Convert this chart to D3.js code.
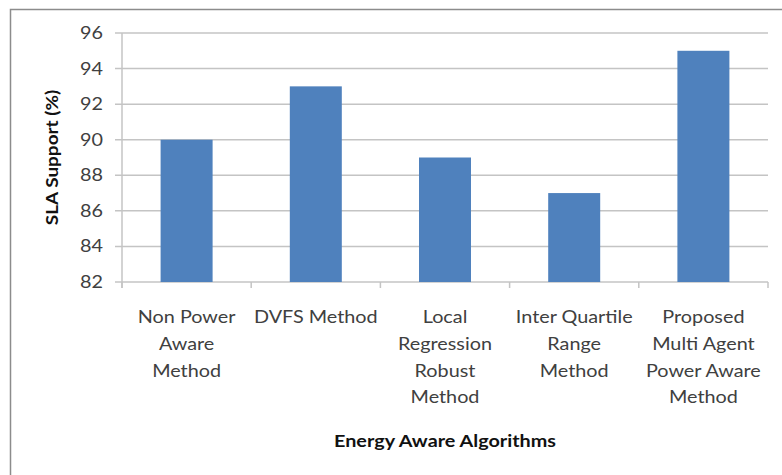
<!DOCTYPE html>
<html><head><meta charset="utf-8">
<script src="https://cdn.jsdelivr.net/npm/d3@7"></script>
<style>body{margin:0;background:#fff}svg{display:block}</style>
</head><body>
<svg id="c" width="782" height="475"></svg>
<script>
const categories = [
  ["Non Power","Aware","Method"],
  ["DVFS Method"],
  ["Local","Regression","Robust","Method"],
  ["Inter Quartile","Range","Method"],
  ["Proposed","Multi Agent","Power Aware","Method"]
];
const values = [90, 93, 89, 87, 95];
const yTicks = [82, 84, 86, 88, 90, 92, 94, 96];
const xTitle = "Energy Aware Algorithms";
const yTitle = "SLA  Support (%)";

(function(){
const svg = d3.select("#c");
const font = "Lato, 'Open Sans', sans-serif";
const pL = 122, pR = 768, pT = 33, pB = 282;
const SX = 1.2;

svg.append("rect").attr("x",10.5).attr("y",9.5).attr("width",790).attr("height",490)
  .attr("fill","#fff").attr("stroke","#8c8c8c").attr("stroke-width",1.5);

const xb = d3.scaleBand().domain(d3.range(categories.length)).range([pL,pR]);
const y = d3.scaleLinear().domain([82,96]).range([pB,pT]);

svg.append("g").selectAll("line").data(yTicks).join("line")
  .attr("x1",115).attr("x2",pR).attr("y1",d=>y(d)).attr("y2",d=>y(d))
  .attr("stroke","#c4c4c4").attr("stroke-width",1.5);

svg.append("line").attr("x1",pL).attr("x2",pL).attr("y1",pT).attr("y2",pB+6)
  .attr("stroke","#c4c4c4").attr("stroke-width",1.5);
svg.append("g").selectAll("line").data(d3.range(categories.length+1)).join("line")
  .attr("x1",i=>pL+i*xb.step()).attr("x2",i=>pL+i*xb.step())
  .attr("y1",pB).attr("y2",pB+6).attr("stroke","#c4c4c4").attr("stroke-width",1.5);

svg.append("g").selectAll("text").data(yTicks).join("text")
  .attr("transform",d=>`translate(103,${y(d)}) scale(${SX},1)`)
  .attr("dy","0.36em").attr("text-anchor","end")
  .attr("font-family",font).attr("font-size",16.5).attr("fill","#404040").text(d=>d);

svg.append("g").selectAll("rect").data(values).join("rect")
  .attr("x",(d,i)=>xb(i)+xb.bandwidth()/2-26).attr("width",52)
  .attr("y",d=>y(d)).attr("height",d=>pB-y(d))
  .attr("fill","#4F81BD");

const cl = svg.append("g");
categories.forEach((lines,i)=>{
  const t = cl.append("text").attr("text-anchor","middle")
    .attr("transform",`translate(${xb(i)+xb.bandwidth()/2},0) scale(${SX},1)`)
    .attr("font-family",font).attr("font-size",16.5).attr("fill","#404040");
  lines.forEach((ln,j)=>{
    t.append("tspan").attr("x",0).attr("y",323.5+j*26.6).text(ln);
  });
});

svg.append("text").attr("transform",`translate(445,446.5) scale(${SX},1)`).attr("text-anchor","middle")
  .attr("font-family",font).attr("font-weight","bold").attr("font-size",16.5).attr("fill","#111").text(xTitle);
svg.append("text").attr("transform",`translate(58,${(pT+pB)/2}) rotate(-90) scale(1.15,1.05)`).attr("text-anchor","middle")
  .attr("font-family",font).attr("font-weight","bold").attr("font-size",16.5).attr("fill","#111").text(yTitle);
})();
</script>
</body></html>
